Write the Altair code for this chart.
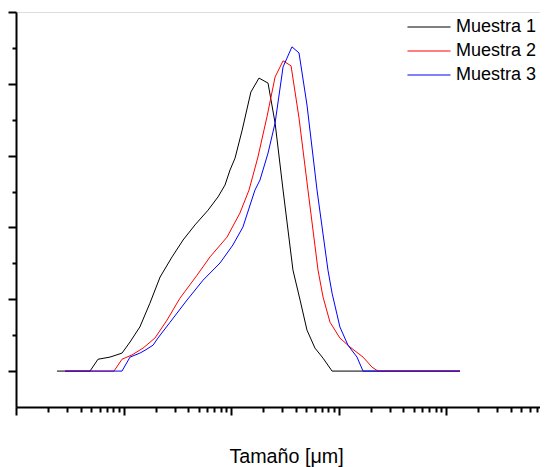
import altair as alt
import pandas as pd

# Muestra 1 (black)
m1_x = [0.2405, 0.488, 0.579, 0.749, 0.968, 1.15, 1.42, 1.76, 2.19, 2.83, 3.58, 4.62, 6.11, 7.57, 8.79,
        9.79, 10.9, 12.7, 15.3, 18.2, 22.1, 25.7, 30.5, 37.7, 43.9, 50.9, 60.4, 71.8, 87.1, 1349]
m1_y = [0, 0, 0.33, 0.39, 0.50, 0.81, 1.23, 1.89, 2.62, 3.18, 3.65, 4.07, 4.48, 4.85, 5.18,
        5.60, 5.93, 6.71, 7.77, 8.16, 8.02, 6.91, 5.04, 2.81, 1.98, 1.14, 0.64, 0.36, 0, 0]

# Muestra 2 (red)
m2_x = [0.286, 0.816, 0.968, 1.20, 1.52, 1.96, 2.54, 3.35, 4.83, 6.38, 9.18, 12.1, 14.7, 17.8, 21.6,
        25.7, 30.5, 36.2, 42.9, 52.0, 64.5, 71.8, 83.4, 103, 128, 169, 205, 233, 1349]
m2_y = [0, 0, 0.33, 0.45, 0.64, 0.92, 1.42, 2.03, 2.67, 3.18, 3.73, 4.40, 5.04, 5.96, 7.08,
        8.19, 8.64, 8.50, 7.05, 5.04, 2.81, 2.06, 1.36, 0.92, 0.67, 0.39, 0.11, 0, 0]

# Muestra 3 (blue)
m3_x = [0.286, 0.968, 1.15, 1.42, 1.585, 1.88, 2.09, 2.71, 3.90, 5.49, 7.90, 10.4, 12.9, 16.7, 18.6,
        22.1, 25.7, 30.5, 36.9, 42.9, 50.9, 63.1, 79.8, 87.1, 103, 122.5, 148.6, 169, 1349]
m3_y = [0, 0, 0.39, 0.50, 0.58, 0.72, 0.92, 1.36, 1.98, 2.53, 3.01, 3.51, 4.01, 5.04, 5.32,
        6.07, 6.91, 8.47, 9.03, 8.86, 7.41, 5.04, 2.81, 2.17, 1.23, 0.72, 0.39, 0, 0]

series_names = ["Muestra 1", "Muestra 2", "Muestra 3"]
series_colors = ["#000000", "#ff0000", "#0000ff"]

x_major = [0.1, 1, 10, 100, 1000]
x_minor = [m * d for d in [0.1, 1, 10, 100, 1000] for m in range(2, 10)]
y_major = [0, 2, 4, 6, 8, 10]
y_minor = [1, 3, 5, 7, 9]

x_domain = [0.1, 7485]
y_domain = [-1, 10]

rows = []
for name, xs, ys in zip(series_names, [m1_x, m2_x, m3_x], [m1_y, m2_y, m3_y]):
    for i, (a, b) in enumerate(zip(xs, ys)):
        rows.append({"serie": name, "size": a, "val": b, "order": i})
df = pd.DataFrame(rows)

FONT = "Liberation Sans"

xs = alt.Scale(type="log", domain=x_domain, nice=False)
ys = alt.Scale(domain=y_domain, nice=False, zero=False)

main = alt.Chart(df).mark_line(strokeWidth=1, clip=True).encode(
    x=alt.X("size:Q", scale=xs,
            axis=alt.Axis(values=x_major, labels=False, tickSize=8, tickWidth=2, domainWidth=2,
                          domainColor="#000", tickColor="#000", grid=False, orient="bottom",
                          title="Tamaño [μm]", titleFont=FONT, titleFontSize=19.7,
                          titleFontWeight="normal", titleColor="#000", titlePadding=30,
                          titleX=270, titleAlign="center")),
    y=alt.Y("val:Q", scale=ys,
            axis=alt.Axis(values=y_major, labels=False, tickSize=8, tickWidth=2, domainWidth=2,
                          domainColor="#000", tickColor="#000", grid=False, orient="left",
                          title=None)),
    color=alt.Color("serie:N",
                    scale=alt.Scale(domain=series_names, range=series_colors),
                    legend=alt.Legend(title=None, orient="none", legendX=404, legendY=6,
                                      symbolType="M-4,0H4", symbolSize=116, symbolStrokeWidth=1,
                                      labelFont=FONT, labelFontSize=18, labelColor="#000",
                                      labelOffset=18, rowPadding=6, padding=0, offset=0,
                                      labelLimit=0)),
    order="order:Q",
)

minor = alt.Chart(df).mark_line(strokeOpacity=0).encode(
    x=alt.X("size:Q", scale=xs,
            axis=alt.Axis(values=x_minor, labels=False, tickSize=5, tickWidth=2, domain=False,
                          tickColor="#000", grid=False, orient="bottom", title=None)),
    y=alt.Y("val:Q", scale=ys,
            axis=alt.Axis(values=y_minor, labels=False, tickSize=4, tickWidth=2, domain=False,
                          tickColor="#000", grid=False, orient="left", title=None)),
    detail="serie:N",
    order="order:Q",
)

chart = alt.layer(main, minor).resolve_axis(x="independent", y="independent").properties(
    width=524, height=395,
    autosize="none",
    padding={"left": 8, "top": 4, "right": 0, "bottom": 60},
).configure_view(stroke=None).configure(background="white")

chart.save("out.html", embed_options={"renderer": "svg", "actions": False})
